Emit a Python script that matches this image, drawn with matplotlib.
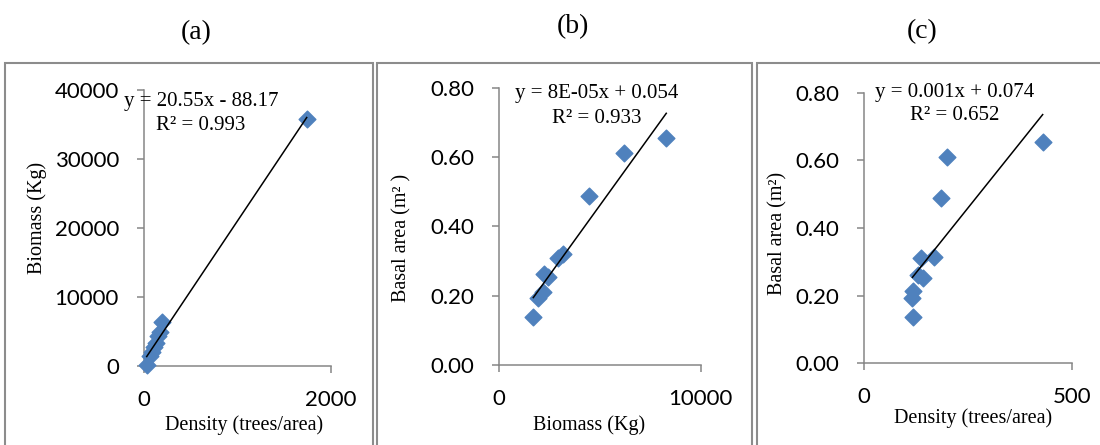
import matplotlib.pyplot as plt
import matplotlib.patches as mpatches
import numpy as np

# (a) density vs biomass
dens_a = [29, 60, 85, 110, 130, 150, 175, 190, 1740]
biom_a = [100, 1500, 2000, 2700, 3300, 4300, 5000, 6400, 35800]
# (b) biomass vs basal area
biom_b = [1690, 1940, 2190, 2240, 2440, 2890, 3185, 4430, 6170, 8290]
basal_b = [0.139, 0.192, 0.211, 0.262, 0.255, 0.308, 0.320, 0.488, 0.612, 0.654]
# (c) density vs basal area
dens_c = [118, 116, 118, 130, 141, 137, 169, 186, 199, 430]
basal_c = [0.138, 0.192, 0.215, 0.261, 0.253, 0.310, 0.315, 0.488, 0.611, 0.653]

titles = ["(a)", "(b)", "(c)"]
eqs = ["y = 20.55x - 88.17", "y = 8E-05x + 0.054", "y = 0.001x + 0.074"]
r2s = ["R² = 0.993", "R² = 0.933", "R² = 0.652"]

W, H = 1100, 445
serif = "Liberation Serif"
sans = "Lato"
tick_fs = 16
lab_fs = 14.5
grey = "#868686"
blue = "#4F81BD"

fig = plt.figure(figsize=(11, 4.45), dpi=100)

def px_ax(x0, x1, ytop, ybot):
    return fig.add_axes([x0 / W, 1 - ybot / H, (x1 - x0) / W, (ybot - ytop) / H])

axes = [px_ax(144, 331, 90, 366), px_ax(499.3, 700.7, 87.7, 365), px_ax(864.3, 1071.7, 92.7, 363.3)]
data = [(dens_a, biom_a), (biom_b, basal_b), (dens_c, basal_c)]
xlims = [(0, 2000), (0, 10000), (0, 500)]
ylims = [(0, 40000), (0, 0.8), (0, 0.8)]
yticks = [np.arange(0, 40001, 10000), np.arange(0, 0.81, 0.2), np.arange(0, 0.81, 0.2)]
xlabels = ["Density (trees/area)", "Biomass (Kg)", "Density (trees/area)"]
ylabels = ["Biomass (Kg)", "Basal area (m² )", "Basal area (m²)"]
xlab_pos = [(0.535, -0.214), (0.445, -0.216), (0.522, -0.202)]
ylab_pos = [(-0.574, 0.538), (-0.485, 0.46), (-0.415, 0.48)]

for i, ax in enumerate(axes):
    x, y = np.array(data[i][0]), np.array(data[i][1])
    ax.scatter(x, y, marker="D", s=8.5**2, color=blue, zorder=3, clip_on=False)
    k, b = np.polyfit(x, y, 1)
    xx = np.array([x.min(), x.max()])
    ax.plot(xx, k * xx + b, color="black", lw=1.1, zorder=4, clip_on=False)
    ax.set_xlim(*xlims[i])
    ax.set_ylim(*ylims[i])
    ax.set_xticks(xlims[i])
    ax.set_yticks(yticks[i])
    if i > 0:
        ax.set_yticklabels(["%.2f" % v for v in yticks[i]])
    for s in ["top", "right"]:
        ax.spines[s].set_visible(False)
    for s in ["left", "bottom"]:
        ax.spines[s].set_color(grey)
        ax.spines[s].set_linewidth(1.1)
    ax.tick_params(axis="both", direction="out", length=5, width=1.1, color=grey,
                   labelsize=tick_fs, labelfontfamily=sans)
    ax.tick_params(axis="y", pad=13)
    ax.tick_params(axis="x", pad=12)
    ax.set_xlabel(xlabels[i], fontsize=lab_fs, family=serif, va="center")
    ax.xaxis.set_label_coords(*xlab_pos[i])
    ax.set_ylabel(ylabels[i], fontsize=lab_fs, family=serif, va="center")
    ax.yaxis.set_label_coords(*ylab_pos[i])
    ax.patch.set_alpha(0)

# equations
eq_pos = [(201, 101.7, 126), (597, 93.3, 118.3), (955, 92.7, 115)]
for i, (cx, y1, y2) in enumerate(eq_pos):
    fig.text(cx / W, 1 - y1 / H, eqs[i], ha="center", va="center", family=serif, fontsize=15, zorder=10)
    fig.text(cx / W, 1 - y2 / H, r2s[i], ha="center", va="center", family=serif, fontsize=15, zorder=10)

# titles
for t, (cx, cy) in zip(titles, [(196.5, 33), (572.5, 26.5), (922.5, 31.7)]):
    fig.text(cx / W, 1 - cy / H, t, ha="center", va="center", family=serif, fontsize=20)

# panel borders
for x0, x1 in [(5, 373), (377, 752), (757, 1110)]:
    fig.patches.append(mpatches.Rectangle((x0 / W, -0.05), (x1 - x0) / W, 1.05 - 62.5 / H,
                                          transform=fig.transFigure, fill=False,
                                          edgecolor="#8c8c8c", lw=1.5, zorder=0))

fig.savefig("out.png", dpi=100)
